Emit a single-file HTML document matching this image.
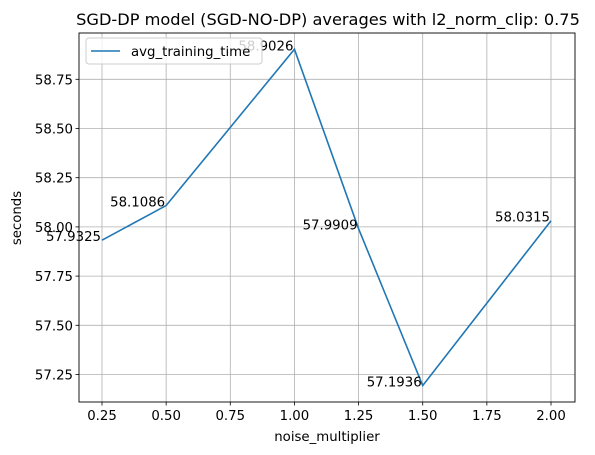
<!DOCTYPE html>
<html><head><meta charset="utf-8"><style>
body{margin:0;background:#fff}
svg{display:block;font-family:"DejaVu Sans","Liberation Sans",sans-serif}
</style></head><body>
<svg id="chart" width="595" height="455">
<rect width="595" height="455" fill="#fff"/>
<g id="grid"></g>
<g id="axes"></g>
<g id="series"></g>
<g id="labels"></g>
<text x="328" y="25" text-anchor="middle" font-size="16.2">SGD-DP model (SGD-NO-DP) averages with l2_norm_clip: 0.75</text>
<text x="327" y="441" text-anchor="middle" font-size="13.3">noise_multiplier</text>
<text transform="translate(21,218) rotate(-90)" text-anchor="middle" font-size="13.3">seconds</text>
<g>
<rect x="86" y="38" width="176" height="26" rx="3" fill="#fff" fill-opacity="0.8" stroke="#ccc"/>
<line x1="91" y1="51" x2="120" y2="51" stroke="#1f77b4" stroke-width="1.6"/>
<text x="131" y="56" font-size="13.3">avg_training_time</text>
</g>
</svg>
<script>
const xValues=[0.25,0.5,1.0,1.25,1.5,2.0];
const yValues=[57.9325,58.1086,58.9026,57.9909,57.1936,58.0315];
const xTicks=[0.25,0.5,0.75,1.0,1.25,1.5,1.75,2.0];
const yTicks=[57.25,57.5,57.75,58.0,58.25,58.5,58.75];
const L=79,R=575,T=33,B=402;
const xs=v=>102+(v-0.25)*(551-102)/1.75;
const ys=v=>374.5-(v-57.25)*196.8;
const NS="http://www.w3.org/2000/svg";
function mk(t,a,p,txt){const e=document.createElementNS(NS,t);for(const k in a)e.setAttribute(k,a[k]);if(txt!==undefined)e.textContent=txt;p.appendChild(e);return e;}
const grid=document.getElementById('grid'),axes=document.getElementById('axes'),series=document.getElementById('series'),labels=document.getElementById('labels');
xTicks.forEach(v=>{const x=xs(v);
const g=mk('line',{x1:x,x2:x,y1:T,y2:B,stroke:'#b0b0b0','stroke-width':0.8},grid);


mk('line',{x1:x,x2:x,y1:B,y2:B+3.5,stroke:'#000','stroke-width':0.8},axes);
const t=mk('text',{x:x,y:B+18,'text-anchor':'middle','font-size':13.3},axes,v.toFixed(2));

});
yTicks.forEach(v=>{const y=ys(v);
const g=mk('line',{x1:L,x2:R,y1:y,y2:y,stroke:'#b0b0b0','stroke-width':0.8},grid);


mk('line',{x1:L-3.5,x2:L,y1:y,y2:y,stroke:'#000','stroke-width':0.8},axes);
const t=mk('text',{x:L-6,y:y+5,'text-anchor':'end','font-size':13.3},axes,v.toFixed(2));

});
const fr=mk('rect',{x:L,y:T,width:R-L,height:B-T,fill:'none',stroke:'#000','stroke-width':0.9},axes);


const pl=mk('polyline',{points:xValues.map((v,i)=>xs(v)+','+ys(yValues[i])).join(' '),fill:'none',stroke:'#1f77b4','stroke-width':1.6},series);


xValues.forEach((v,i)=>{
const t=mk('text',{x:xs(v)-1,y:ys(yValues[i])+1,'text-anchor':'end','font-size':13.3},labels,yValues[i].toFixed(4));

});
</script>
</body></html>
